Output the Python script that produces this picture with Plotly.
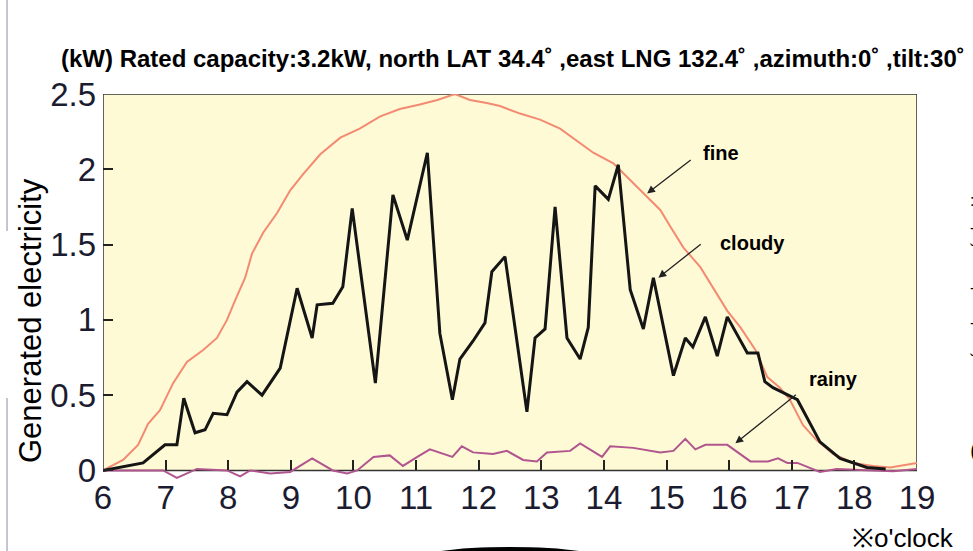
import plotly.graph_objects as go

# ---- data (hours, kW) ----
fine_t = [6.0, 6.32, 6.56, 6.72, 6.91, 7.12, 7.34, 7.60, 7.82, 7.98, 8.11, 8.27, 8.38, 8.56,
          8.78, 8.99, 9.20, 9.47, 9.79, 10.10, 10.42, 10.74, 11.06, 11.34, 11.62, 11.86,
          12.13, 12.34, 12.66, 12.98, 13.30, 13.57, 13.83, 14.15, 14.37, 14.58, 14.90,
          15.06, 15.27, 15.54, 15.73, 15.97, 16.18, 16.42, 16.61, 16.81, 16.97, 17.18,
          17.40, 17.66, 17.98, 18.30, 18.57, 18.84, 19.0]
fine_v = [0.0, 0.07, 0.17, 0.31, 0.40, 0.58, 0.72, 0.80, 0.88, 1.00, 1.13, 1.28, 1.44, 1.58,
          1.71, 1.86, 1.97, 2.10, 2.21, 2.27, 2.35, 2.40, 2.43, 2.46, 2.50, 2.46,
          2.44, 2.42, 2.37, 2.33, 2.27, 2.19, 2.11, 2.04, 1.95, 1.86, 1.73,
          1.62, 1.48, 1.35, 1.22, 1.06, 0.95, 0.80, 0.62, 0.55, 0.47, 0.30,
          0.20, 0.11, 0.05, 0.03, 0.02, 0.04, 0.05]

cloudy_t = [6.0, 6.64, 6.99, 7.18, 7.29, 7.47, 7.63, 7.76, 7.98, 8.14, 8.30, 8.54, 8.83,
            9.10, 9.34, 9.42, 9.67, 9.83, 9.98, 10.35, 10.63, 10.86, 11.18, 11.38, 11.58,
            11.70, 11.91, 12.10, 12.21, 12.42, 12.77, 12.90, 13.06, 13.22, 13.41, 13.62,
            13.75, 13.86, 14.07, 14.23, 14.42, 14.63, 14.79, 15.11, 15.30, 15.42, 15.62,
            15.81, 15.97, 16.29, 16.46, 16.57, 16.70, 17.09, 17.45, 17.77, 18.20, 18.50]
cloudy_v = [0.0, 0.05, 0.17, 0.17, 0.48, 0.25, 0.27, 0.38, 0.37, 0.52, 0.59, 0.50, 0.68,
            1.21, 0.88, 1.10, 1.11, 1.22, 1.74, 0.58, 1.83, 1.53, 2.11, 0.91, 0.47,
            0.74, 0.86, 0.98, 1.32, 1.42, 0.39, 0.88, 0.94, 1.75, 0.88, 0.74,
            0.95, 1.89, 1.80, 2.03, 1.20, 0.94, 1.28, 0.63, 0.88, 0.82, 1.02,
            0.76, 1.02, 0.78, 0.78, 0.59, 0.55, 0.47, 0.19, 0.08, 0.02, 0.01]

rainy_t = [6.0, 6.96, 7.18, 7.50, 7.98, 8.19, 8.35, 8.67, 8.99, 9.34, 9.67, 9.90, 10.06,
           10.32, 10.58, 10.79, 11.02, 11.22, 11.58, 11.73, 11.91, 12.23, 12.45, 12.71,
           12.93, 13.09, 13.46, 13.62, 13.97, 14.10, 14.47, 14.90, 15.11, 15.30, 15.46,
           15.62, 15.97, 16.34, 16.62, 16.78, 16.93, 17.09, 17.45, 17.72, 18.30, 18.62, 19.0]
rainy_v = [0.0, 0.0, -0.05, 0.01, 0.0, -0.04, 0.0, -0.02, -0.01, 0.08, 0.0, -0.02, 0.0,
           0.09, 0.10, 0.03, 0.09, 0.14, 0.09, 0.16, 0.12, 0.11, 0.13, 0.07,
           0.06, 0.12, 0.13, 0.18, 0.09, 0.16, 0.15, 0.12, 0.13, 0.21, 0.14,
           0.17, 0.17, 0.06, 0.06, 0.08, 0.05, 0.05, -0.01, 0.01, 0.0, -0.005, 0.01]

hour_ticks = list(range(6, 20))
hour_labels = [str(h) for h in hour_ticks]
kw_ticks = [0, 0.5, 1, 1.5, 2, 2.5]
kw_labels = ["0", "0.5", "1", "1.5", "2", "2.5"]

# ---- layout geometry (pixels) ----
W, H = 973, 551
L, R, T, B = 103, 56, 94, 70
YMIN, YMAX = -0.07, 2.5
pw, ph = W - L - R, H - T - B


def px(x):
    return (x - L) / pw


def py(y):
    return (H - B - y) / ph


FONT = "Liberation Sans, Arial, sans-serif"
TICKCOL = "#1c1c30"

fig = go.Figure()
fig.add_trace(go.Scatter(x=fine_t, y=fine_v, mode="lines", name="fine",
                         line=dict(color="#F38A72", width=2)))
fig.add_trace(go.Scatter(x=rainy_t, y=rainy_v, mode="lines", name="rainy",
                         line=dict(color="#B0558E", width=2)))
fig.add_trace(go.Scatter(x=cloudy_t, y=cloudy_v, mode="lines", name="cloudy",
                         line=dict(color="#151515", width=3)))

fig.update_layout(
    width=W, height=H,
    margin=dict(l=L, r=R, t=T, b=B),
    paper_bgcolor="white", plot_bgcolor="rgba(0,0,0,0)",
    showlegend=False,
    font=dict(family=FONT, color="black"),
    xaxis=dict(range=[6, 19], tickvals=hour_ticks, ticktext=hour_labels,
               showgrid=False, zeroline=False, showline=False,
               ticks="inside", ticklen=10, tickwidth=1.5, tickcolor="#222",
               anchor="free", position=(0 - YMIN) / (YMAX - YMIN),
               ticklabelstandoff=5,
               tickfont=dict(size=33, color=TICKCOL, family=FONT)),
    yaxis=dict(range=[YMIN, YMAX], tickvals=kw_ticks, ticktext=kw_labels,
               showgrid=False, zeroline=False, showline=False,
               ticks="inside", ticklen=10, tickwidth=1.5, tickcolor="#222",
               ticklabelstandoff=6,
               tickfont=dict(size=33, color=TICKCOL, family=FONT)),
)

# plot frame with pale yellow fill
fig.add_shape(type="rect", xref="x", yref="y", x0=6, x1=19, y0=0, y1=2.5,
              line=dict(color="#333333", width=1.5), fillcolor="#FFFAD6", layer="below")

# left page rules
fig.add_shape(type="line", xref="paper", yref="paper", x0=px(7), x1=px(7), y0=py(0), y1=py(231),
              line=dict(color="#8a8aa8", width=1))
fig.add_shape(type="line", xref="paper", yref="paper", x0=px(7), x1=px(7), y0=py(398), y1=py(551),
              line=dict(color="#8a8aa8", width=1))

# black arc at bottom
fig.add_shape(type="circle", xref="paper", yref="paper",
              x0=px(410), x1=px(610), y0=py(576), y1=py(547),
              fillcolor="black", line=dict(color="black", width=0))

# title
fig.add_annotation(xref="paper", yref="paper", x=px(513), y=py(58), showarrow=False,
                   text="<b>(kW) Rated capacity:3.2kW, north LAT 34.4˚ ,east LNG 132.4˚ ,azimuth:0˚ ,tilt:30˚</b>",
                   font=dict(size=24, family=FONT, color="black"), xanchor="center", yanchor="middle")

# y-axis title
fig.add_annotation(xref="paper", yref="paper", x=px(30), y=py(321), showarrow=False,
                   text="Generated electricity", textangle=-90,
                   font=dict(size=31, family=FONT, color="black"), xanchor="center", yanchor="middle")

# unit note
fig.add_annotation(xref="paper", yref="paper", x=px(850), y=py(538), showarrow=False,
                   text="※o'clock", font=dict(size=26, family=FONT, color="black"),
                   xanchor="left", yanchor="middle")

# clipped fragments at right edge
for ch, yy, sz in [(":", 200, 16), ("-", 227, 16), ("ˇ", 250, 16), ("-", 287, 16),
                   ("-", 322, 16), ("ˇ", 360, 16), ("(", 449, 24)]:
    fig.add_annotation(xref="paper", yref="paper", x=px(968), y=py(yy), showarrow=False,
                       text=ch, font=dict(size=sz, family=FONT, color="black"),
                       xanchor="left", yanchor="middle")

# series labels with arrows
labels = [("fine", 15.87, 2.11, 15.41, 2.07, 14.69, 1.84),
          ("cloudy", 16.37, 1.51, 15.57, 1.51, 14.87, 1.28),
          ("rainy", 17.66, 0.61, 17.09, 0.51, 16.10, 0.18)]
for name, tx, ty, ax, ay, hx, hy in labels:
    fig.add_annotation(x=tx, y=ty, xref="x", yref="y", text="<b>%s</b>" % name, showarrow=False,
                       font=dict(size=20, family=FONT, color="black"))
    fig.add_annotation(x=hx, y=hy, xref="x", yref="y", ax=ax, ay=ay, axref="x", ayref="y",
                       text="", showarrow=True, arrowhead=2, arrowsize=1.2, arrowwidth=1.3,
                       arrowcolor="#222")

fig.write_html("out.html")
